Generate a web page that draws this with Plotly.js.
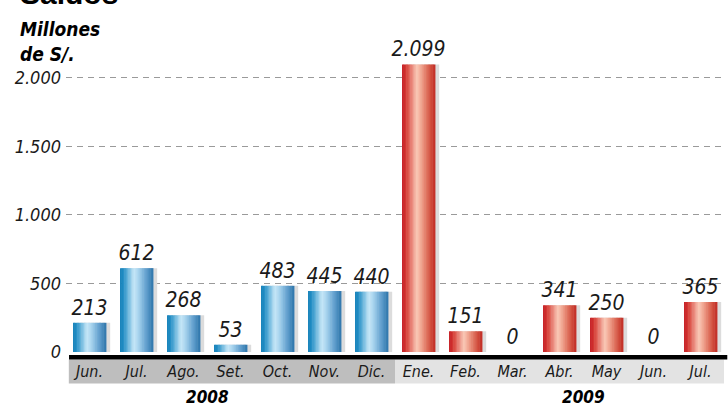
<!DOCTYPE html>
<html><head><meta charset="utf-8">
<script src="https://cdn.plot.ly/plotly-3.0.1.min.js"></script>
<style>html,body{margin:0;padding:0;background:#fff}#c{width:728px;height:406px}</style>
</head><body><div id="c"></div>
<script>
const months = ["Jun.","Jul.","Ago.","Set.","Oct.","Nov.","Dic.","Ene.","Feb.","Mar.","Abr.","May","Jun.","Jul."];
const years = ["2008","2008","2008","2008","2008","2008","2008","2009","2009","2009","2009","2009","2009","2009"];
const saldos = [213,612,268,53,483,445,440,2099,151,0,341,250,0,365];
const yTicks = [0,500,1000,1500,2000];

const FONT = "'DejaVu Sans Condensed','Liberation Sans Narrow',sans-serif";
const idx = months.map((m,i)=>i);

function hex(c){return [parseInt(c.slice(1,3),16),parseInt(c.slice(3,5),16),parseInt(c.slice(5,7),16)];}
function interp(stops,t){
  for(let k=0;k<stops.length-1;k++){
    const a=stops[k],b=stops[k+1];
    if(t>=a[0]&&t<=b[0]){
      const f=(t-a[0])/(b[0]-a[0]);const ca=hex(a[1]),cb=hex(b[1]);
      return 'rgb('+ca.map((v,j)=>Math.round(v+(cb[j]-v)*f)).join(',')+')';
    }
  }
  return stops[stops.length-1][1];
}
const blueStops=[[0,'#0a7bb6'],[0.12,'#2b93c8'],[0.42,'#c6e7f8'],[0.55,'#a9d5ef'],[0.8,'#5f9ecd'],[1,'#2f76ab']];
const redStops=[[0,'#c3141b'],[0.15,'#d9473e'],[0.45,'#fac9b7'],[0.6,'#ef9f8a'],[0.85,'#d45341'],[1,'#c12d26']];

const W=0.7, N=24, sw=W/N;
const traces=[];
// shadow
traces.push({type:'bar',x:idx,y:saldos,width:W,offset:-W/2+0.09,
  marker:{color:'#dcdcdc',line:{width:0}},hoverinfo:'skip',showlegend:false});
for(let s=0;s<N;s++){
  const t=(s+0.5)/N;
  traces.push({type:'bar',x:idx,y:saldos,width:sw*1.35,offset:-W/2+s*sw,
    marker:{color:years.map(yy=>yy==="2008"?interp(blueStops,t):interp(redStops,t)),line:{width:0}},
    hoverinfo:'skip',showlegend:false});
}
// value labels
traces.push({type:'bar',x:idx,y:saldos,width:W,offset:-W/2,marker:{color:'rgba(0,0,0,0)'},
  text:saldos,texttemplate:'%{y:,}',textposition:'outside',cliponaxis:false,constraintext:'none',
  textfont:{family:FONT,size:21,color:'#1a1a1a',style:'italic'},showlegend:false,hoverinfo:'skip'});

const layout={
  width:728,height:406,margin:{l:66,r:4,t:30,b:54},
  paper_bgcolor:'#fff',plot_bgcolor:'#fff',barmode:'overlay',separators:',.',
  showlegend:false,
  xaxis:{range:[-0.5,13.5],tickmode:'array',tickvals:idx,ticktext:months,showgrid:false,
    zeroline:false,showline:false,ticks:'',ticklabelstandoff:8,
    tickfont:{family:FONT,size:16,color:'#1a1a1a',style:'italic'}},
  yaxis:{range:[0,2350],tickmode:'array',tickvals:yTicks,tickformat:',',showgrid:true,
    gridcolor:'#9a9a9a',griddash:'6px,5px',gridwidth:1,zeroline:false,showline:false,ticks:'',
    ticklabelstandoff:4,tickfont:{family:FONT,size:18,color:'#1a1a1a',style:'italic'}},
  shapes:[
    {type:'rect',xref:'x',yref:'paper',x0:-0.5+0.06,x1:6.5,y0:-0.0233,y1:-0.0978,fillcolor:'#bebebe',line:{width:0},layer:'below'},
    {type:'rect',xref:'x',yref:'paper',x0:6.5,x1:13.52,y0:-0.0233,y1:-0.0978,fillcolor:'#e3e3e3',line:{width:0},layer:'below'},
    {type:'rect',xref:'paper',yref:'paper',x0:0.0046,x1:1.005,y0:-0.009,y1:-0.0233,fillcolor:'#000',line:{width:0}}
  ],
  annotations:[
    {text:'<b>Saldos</b>',xref:'paper',yref:'paper',x:-0.073,y:1.056,xanchor:'left',yanchor:'bottom',showarrow:false,
      font:{family:"'Liberation Sans',Arial,sans-serif",size:30,color:'#000'}},
    {text:'<b><i>Millones<br>de S/.</i></b>',xref:'paper',yref:'paper',x:-0.073,y:1.043,xanchor:'left',yanchor:'top',align:'left',showarrow:false,
      font:{family:FONT,size:19,color:'#000'}},
    {text:'<b><i>2008</i></b>',xref:'x',yref:'paper',x:2.5,y:-0.14,yanchor:'middle',showarrow:false,font:{family:FONT,size:17,color:'#000'}},
    {text:'<b><i>2009</i></b>',xref:'x',yref:'paper',x:10.5,y:-0.14,yanchor:'middle',showarrow:false,font:{family:FONT,size:17,color:'#000'}}
  ]
};
Plotly.newPlot('c',traces,layout,{staticPlot:true,displayModeBar:false});
</script></body></html>
